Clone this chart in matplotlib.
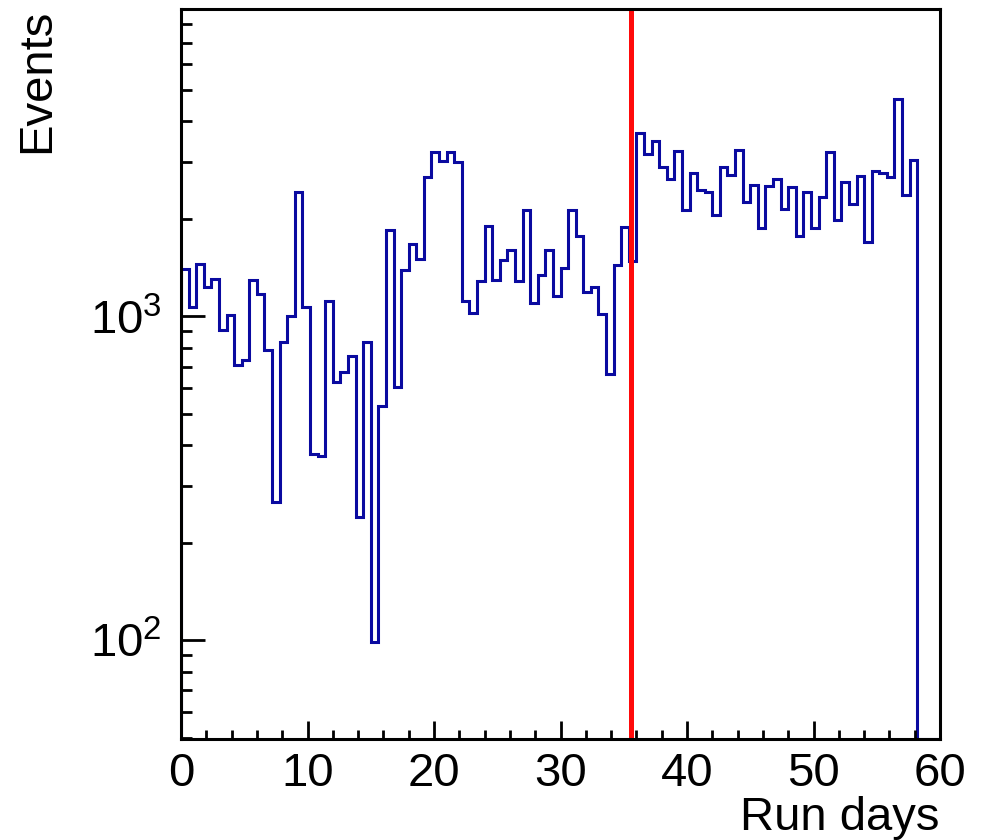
import numpy as np
import matplotlib
matplotlib.use("Agg")
import matplotlib.pyplot as plt
from matplotlib.ticker import LogLocator, LogFormatterMathtext, MultipleLocator, NullFormatter

plt.rcParams['font.family'] = ['Liberation Sans', 'DejaVu Sans']
plt.rcParams['mathtext.fontset'] = 'custom'
plt.rcParams['mathtext.rm'] = 'Liberation Sans'
plt.rcParams['mathtext.it'] = 'Liberation Sans:italic'

# Histogram: 100 bins over 0-60 run days
x_min, x_max, n_bins = 0, 60, 100
events = [
    1401, 1066, 1452, 1229, 1305, 910, 1012, 709, 735, 1292,
    1175, 789, 267, 834, 1000, 2424, 1066, 376, 370, 1118,
    628, 675, 756, 240, 834, 99, 530, 1849, 605, 1394,
    1678, 1504, 2692, 3217, 3013, 3221, 3000, 1113, 1024, 1283,
    1906, 1298, 1497, 1607, 1283, 2126, 1100, 1339, 1607, 1158,
    1411, 2126, 1776, 1190, 1229, 1017, 664, 1445, 1884, 1479,
    3687, 3176, 3474, 2887, 2664, 3252, 2126, 2774, 2452, 2424,
    2051, 2887, 2728, 3258, 2257, 2540, 1876, 2522, 2664, 2147,
    2511, 1776, 2424, 1876, 2339, 3221, 1980, 2595, 2225, 2721,
    1693, 2820, 2774, 2689, 4697, 2377, 3034, 0, 0, 0,
]
cut_day = 35.6

y_lo, y_hi = 49.5, 8900

edges = np.linspace(x_min, x_max, n_bins + 1)
counts = np.array(events, dtype=float)
# empty bins are drawn on the frame bottom, like ROOT does
shown = np.maximum(counts, y_lo)

fig = plt.figure(figsize=(9.82, 8.40), dpi=100)
ax = fig.add_axes([181/982, 1 - 739/840, (940-181)/982, (739-9)/840])

ax.stairs(shown, edges, baseline=y_lo, color='#0a0aa0', lw=2.2)
ax.axvline(cut_day, color='#ff0a0a', lw=3.6)

ax.set_yscale('log')
ax.set_xlim(x_min, x_max)
ax.set_ylim(y_lo, y_hi)

ax.xaxis.set_major_locator(MultipleLocator(10))
ax.xaxis.set_minor_locator(MultipleLocator(2))
ax.yaxis.set_major_locator(LogLocator(base=10))
ax.yaxis.set_minor_locator(LogLocator(base=10, subs=np.arange(2, 10)))
ax.yaxis.set_major_formatter(LogFormatterMathtext())
ax.yaxis.set_minor_formatter(NullFormatter())

ax.tick_params(axis='both', which='both', direction='in', width=2.0,
               top=False, right=False, labelsize=34, color='black')
ax.tick_params(axis='x', which='major', length=13, pad=9)
ax.tick_params(axis='x', which='minor', length=6.5)
ax.tick_params(axis='y', which='major', length=17, pad=14)
ax.tick_params(axis='y', which='minor', length=8)

for s in ax.spines.values():
    s.set_linewidth(2.2)

fig.text(940/982, 1 - 818/840, 'Run days', ha='right', va='center', fontsize=34)
fig.text(37/982, 1 - 9/840, 'Events', ha='center', va='top', rotation=90, fontsize=34)

fig.savefig('out.png', dpi=100)
